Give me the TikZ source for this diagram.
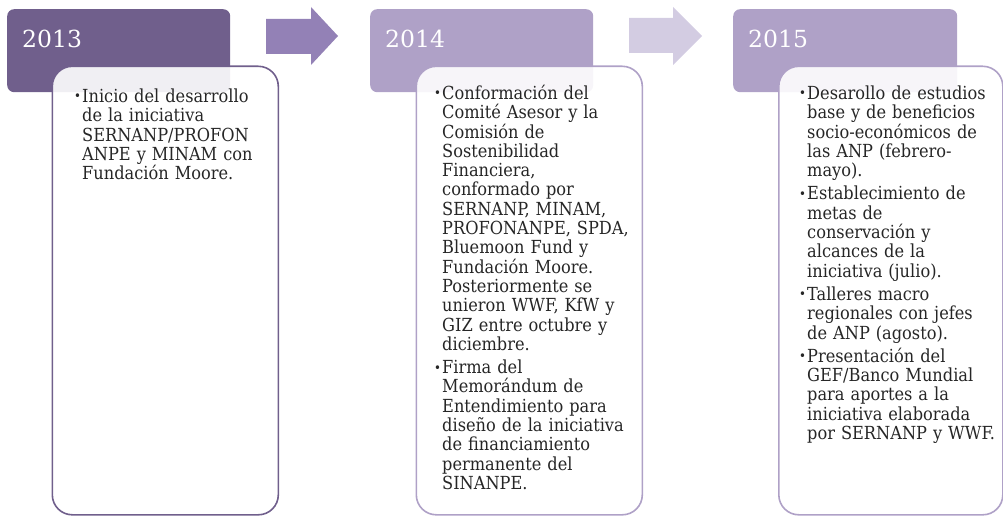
\documentclass[tikz,border=0pt]{standalone}
\usepackage{fontspec}
\setmainfont{DejaVu Serif}
\newfontfamily\bodyfont{DejaVu Serif Condensed}
\definecolor{darkp}{RGB}{112,95,140}
\definecolor{midp}{RGB}{147,129,182}
\definecolor{lightp}{RGB}{175,161,199}
\definecolor{palep}{RGB}{211,204,226}
\definecolor{bodytext}{RGB}{38,38,38}
\newcommand\nl{\hfil\break}
\newcommand\bitem[1]{\par\noindent\hangindent=8pt\hangafter=1\makebox[8pt][l]{\raisebox{1.5pt}{\fontsize{13}{13}\selectfont •}}#1\par}
\newcommand\bgap{\par\vspace{4pt}}
\begin{document}
\begin{tikzpicture}[x=1pt,y=-1pt,
  header/.style={rectangle, rounded corners=7pt, anchor=north west, minimum width=223pt, minimum height=83pt, inner sep=0pt},
  contentbox/.style={rectangle, rounded corners=20pt, line width=1.6pt, fill=white, fill opacity=0.9, anchor=north west, minimum width=226pt, minimum height=448.5pt, inner sep=0pt},
  year/.style={anchor=base west, text=white, inner sep=0pt, font=\fontsize{23.5}{28}\selectfont},
  body/.style={anchor=north west, inner sep=0pt, text width=240pt, text=bodytext, font=\bodyfont\fontsize{18}{19.3}\selectfont}
]
\useasboundingbox (0,0) rectangle (1003,516);
% headers
\node[header, fill=darkp] (h1) at (7,9) {};
\node[header, fill=lightp] (h2) at (370,9) {};
\node[header, fill=lightp, minimum width=224pt] (h3) at (733,9) {};
\node[year] (y1) at (22,48) {2013};
\node[year] (y2) at (385,48) {2014};
\node[year] (y3) at (748,48) {2015};
% arrows
\fill[midp] (266,19) -- (311,19) -- (311,7) -- (338,36) -- (311,65) -- (311,54) -- (266,54) -- cycle;
\fill[palep] (629,18) -- (673,18) -- (673,7) -- (702,36) -- (673,65) -- (673,53) -- (629,53) -- cycle;
% content boxes
\node[contentbox, draw=darkp] (c1) at (51.5,65.5) {};
\node[contentbox, draw=lightp] (c2) at (415.5,65.5) {};
\node[contentbox, draw=lightp, minimum width=224pt] (c3) at (778,65.5) {};
% texts
\node[body] (t1) at (74,83) {\bitem{Inicio del desarrollo\nl de la iniciativa\nl SERNANP/PROFON\nl ANPE y MINAM con\nl Fundación Moore.}};
\node[body] (t2) at (434,80) {\bitem{Conformación del\nl Comité Asesor y la\nl Comisión de\nl Sostenibilidad\nl Financiera,\nl conformado por\nl SERNANP, MINAM,\nl PROFONANPE, SPDA,\nl Bluemoon Fund y\nl Fundación Moore.\nl Posteriormente se\nl unieron WWF, KfW y\nl GIZ entre octubre y\nl diciembre.}\bgap
\bitem{Firma del\nl Memorándum de\nl Entendimiento para\nl diseño de la iniciativa\nl de financiamiento\nl permanente del\nl SINANPE.}};
\node[body] (t3) at (799,80) {\bitem{Desarollo de estudios\nl base y de beneficios\nl socio-económicos de\nl las ANP (febrero-\nl mayo).}\bgap
\bitem{Establecimiento de\nl metas de\nl conservación y\nl alcances de la\nl iniciativa (julio).}\bgap
\bitem{Talleres macro\nl regionales con jefes\nl de ANP (agosto).}\bgap
\bitem{Presentación del\nl GEF/Banco Mundial\nl para aportes a la\nl iniciativa elaborada\nl por SERNANP y WWF.}};
\end{tikzpicture}
\end{document}
